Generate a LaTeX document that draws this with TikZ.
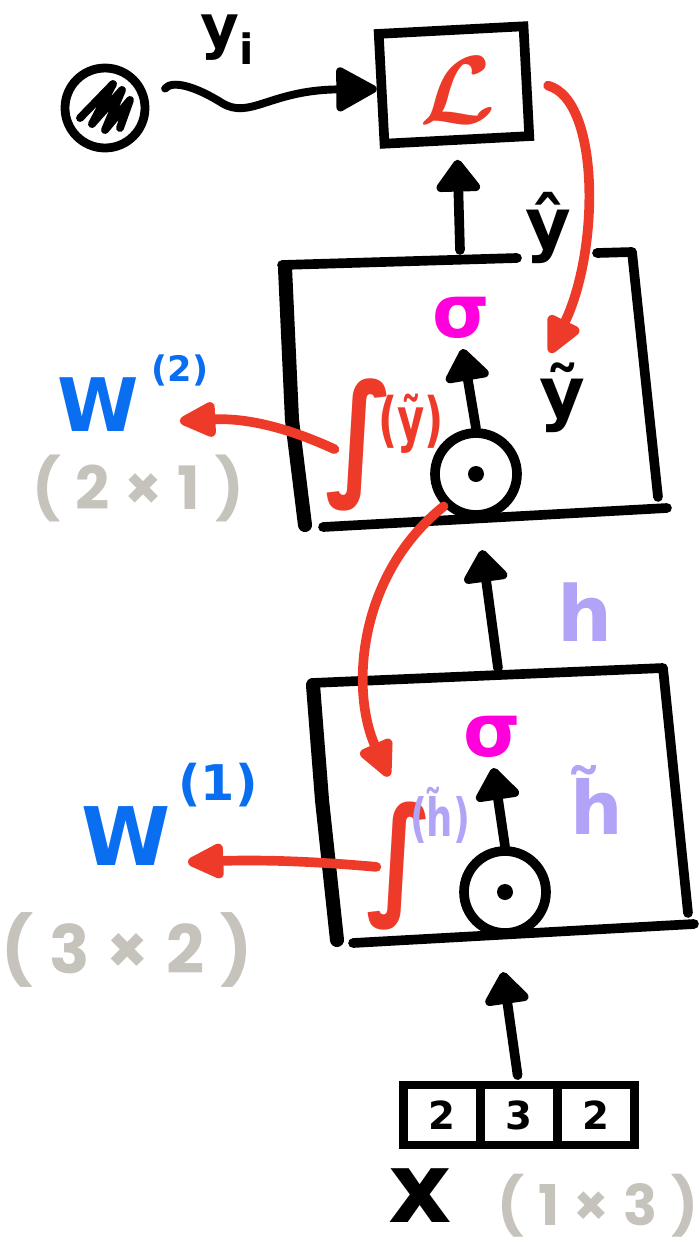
\documentclass[tikz,border=0pt]{standalone}
\usepackage{fontspec}
\setmainfont{DejaVu Sans}
\newfontfamily\dimfont[LetterSpace=25]{Poppins}
\usetikzlibrary{arrows.meta,positioning}

\definecolor{lossred}{HTML}{EE3A28}
\definecolor{wblue}{HTML}{0A6EF0}
\definecolor{actpink}{HTML}{FF00DC}
\definecolor{hlav}{HTML}{B2A3F7}
\definecolor{dimgray}{HTML}{C6C3BC}

\tikzset{
  ink/.style={line width=5.5pt, line cap=round, line join=round},
  up/.style={ink, -{Triangle[length=0.7cm,width=1.0cm,round]}},
  back/.style={ink, lossred, -{Triangle[length=0.85cm,width=0.75cm,round]}},
  lbl/.style={font=\bfseries\fontsize{#1}{#1}\selectfont, inner sep=0pt},
  dim/.style={text=dimgray, font=\dimfont\bfseries\fontsize{#1}{#1}\selectfont, inner sep=0pt},
  unit/.style={circle, draw, line width=5.5pt, minimum size=1.64cm, inner sep=0pt},
  cell/.style={draw, line width=5pt, minimum width=1.54cm, minimum height=1.2cm, outer sep=0pt, inner sep=0pt},
}

\begin{document}
\begin{tikzpicture}[x=0.02cm, y=-0.02cm]
\useasboundingbox (0,0) rectangle (699,1245);

% target y_i and the loss
\node[circle, draw, line width=5pt, minimum size=1.6cm, inner sep=0pt] (ball) at (105,108) {};
\draw[ink, line width=4.5pt] (80,118) -- (113,84) -- (92,124) -- (122,90) -- (105,130) -- (130,100) -- (120,128);
\node[lbl=34] (yi) at (228,40) {y\textsubscript{i}};

\node[draw, line width=5.5pt, minimum width=2.9cm, minimum height=2.2cm, rotate=3] (loss) at (454,85) {};
\node[scale=5.5, text=lossred, font=\boldmath] (L) at (458,90) {$\mathcal{L}$};

\draw[ink, line width=4.5pt, -{Triangle[length=0.9cm,width=0.95cm,round]}, shorten <=0.5cm]
  (ball.east) .. controls (172,80) and (195,86) .. (222,103) .. controls (250,120) and (270,90) .. (loss.west);

% output layer
\draw[ink] (282,265) -- (517,258);
\draw[ink] (597,253) -- (632,252) -- (658,497);
\draw[ink, line width=8pt] (285,268) -- (292,420) -- (305,525);
\draw[ink] (323,527) -- (667,508);

\node[lbl=42, text=actpink] (sig2) at (461,318) {σ};
\node[unit] (dot2) at (476,474) {};
\fill (dot2.center) circle[radius=0.16cm];
\node[lbl=40] (ytil) at (562,398) {ỹ};
\node[lbl=40] (yhat) at (548,228) {ŷ};
\node[lbl=64, yscale=1.2, text=lossred] (int2) at (360,445) {∫};
\node[lbl=34, xscale=0.7, text=lossred] (int2sup) at (411,424) {(ỹ)};

\node[lbl=42, text=wblue] (w2) at (98,405) {W};
\node[lbl=20, text=wblue] (w2sup) at (180,370) {(2)};
\node[dim=34] (dim2) at (138,488) {(2×1)};

% hidden layer
\draw[ink] (312,683) -- (663,668) -- (688,913);
\draw[ink, line width=8pt] (313,685) -- (322,800) -- (337,940);
\draw[ink] (353,943) -- (694,924);

\node[lbl=42, text=actpink] (sig1) at (492,737) {σ};
\node[unit] (dot1) at (505,892) {};
\fill (dot1.center) circle[radius=0.16cm];
\node[lbl=42, text=hlav] (htil) at (597,800) {h̃};
\node[lbl=44, text=hlav] (h) at (585,612) {h};
\node[lbl=62, yscale=1.2, text=lossred] (int1) at (400,866) {∫};
\node[lbl=30, xscale=0.7, text=hlav] (int1sup) at (440,815) {(h̃)};

\node[lbl=46, text=wblue] (w1) at (126,836) {W};
\node[lbl=28, text=wblue] (w1sup) at (218,785) {(1)};
\node[dim=38] (dim1) at (127,950) {(3×2)};

% input vector
\node[cell] (c2) at (519,1115) {};
\node[cell, left=0pt of c2] (c1) {};
\node[cell, right=0pt of c2] (c3) {};
\node[lbl=22] (x1) at (c1) {2};
\node[lbl=22] (x2) at (c2) {3};
\node[lbl=22] (x3) at (c3) {2};
\node[lbl=56] (xin) at (420,1196) {x};
\node[dim=32] (dim0) at (598,1206) {(1×3)};

% forward pass
\coordinate (l1in) at (503,972);
\coordinate (l1out) at (498,668);
\coordinate (l2in) at (482,550);
\coordinate (l2out) at (460,250);
\draw[up, shorten <=0.2cm] (c2.north) -- (l1in);
\draw[up, shorten >=0.2cm] (dot1.north) -- (sig1.south);
\draw[up] (l1out) -- (l2in);
\draw[up, shorten >=0.2cm] (dot2.north) -- (sig2.south);
\draw[up, shorten >=0.3cm] (l2out) -- (loss.south);

% backward pass
\coordinate (w2in) at (180,421);
\coordinate (w1in) at (188,862);
\draw[back, shorten <=0.35cm] (loss.east) .. controls (600,100) and (600,250) .. ([shift={(-12,-10)}]ytil.north);
\draw[back, shorten <=-0.2cm] (int2.west) .. controls (280,424) and (240,418) .. (w2in);
\draw[back, shorten >=0.55cm] (dot2.south west) .. controls (358,575) and (350,690) .. (int1.north);
\draw[back, shorten <=-0.2cm] (int1.west) .. controls (300,860) and (250,860) .. (w1in);

\end{tikzpicture}
\end{document}
